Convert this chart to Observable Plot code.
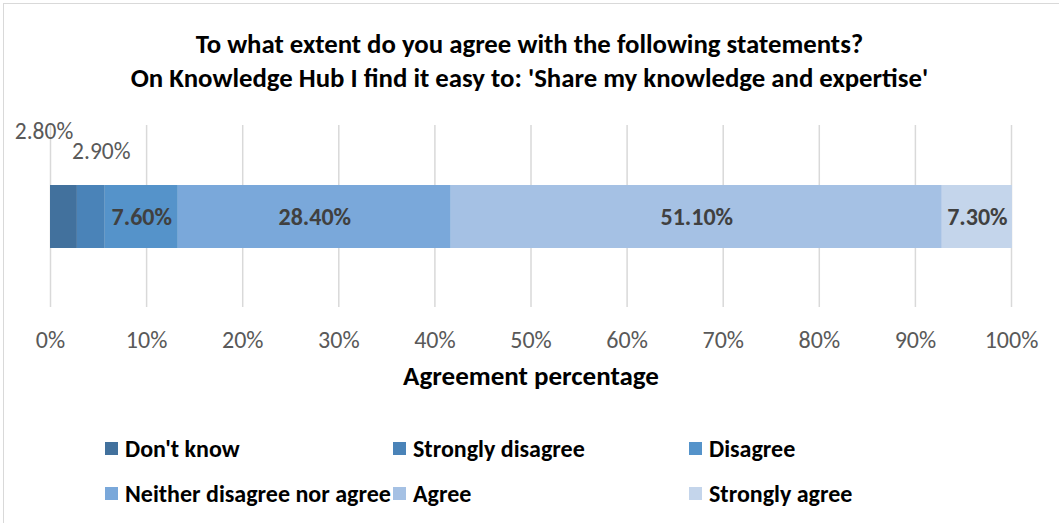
<!DOCTYPE html>
<html>
<head>
<meta charset="utf-8">
<script src="https://cdn.jsdelivr.net/npm/d3@7"></script>
<script src="https://cdn.jsdelivr.net/npm/@observablehq/plot@0.6"></script>
<style>
  html, body { margin: 0; padding: 0; background: #fff; }
  body { width: 1059px; height: 523px; position: relative; overflow: hidden; font-family: Carlito, "Open Sans", sans-serif; }
  #frame { position: absolute; left: 3px; top: 3px; width: 1070px; height: 540px; border: 1.5px solid #d9d9d9; box-sizing: border-box; }
  #title { position: absolute; left: 0; width: 1059px; top: 27px; text-align: center; font-weight: 700; font-size: 26.8px; line-height: 34px; color: #000; }
  #chart { position: absolute; left: 0; top: 110px; }
  #legend { position: absolute; left: 105px; top: 433px; display: grid; grid-template-columns: 288px 296px auto; row-gap: 15px; }
  .item { display: flex; align-items: center; font-weight: 700; font-size: 24px; height: 30px; color: #000; white-space: nowrap; }
  .sw { width: 13px; height: 13px; margin-right: 7px; flex: none; }
</style>
</head>
<body>
<div id="frame"></div>
<div id="title">To what extent do you agree with the following statements?<br>On Knowledge Hub I find it easy to: 'Share my knowledge and expertise'</div>
<div id="chart"></div>
<div id="legend"></div>
<script>
const categories = ["Don't know", "Strongly disagree", "Disagree", "Neither disagree nor agree", "Agree", "Strongly agree"];
const values = [2.8, 2.9, 7.6, 28.4, 51.1, 7.3];
const colors = ["#42719d", "#4a83b8", "#5593ca", "#7aa8da", "#a5c1e4", "#c4d5eb"];
const tickValues = [0, 10, 20, 30, 40, 50, 60, 70, 80, 90, 100];
const axisTitle = "Agreement percentage";

const data = categories.map((c, i) => ({category: c, value: values[i], row: "r", idx: i}));
let acc = 0;
for (const d of data) { d.x1 = acc; acc += d.value; d.x2 = acc; d.mid = (d.x1 + d.x2) / 2; d.label = d.value.toFixed(2) + "%"; }

const font = 'Carlito, "Open Sans", sans-serif';
const chart = Plot.plot({
  width: 1059,
  height: 290,
  marginLeft: 50,
  marginRight: 48,
  marginTop: 15,
  marginBottom: 93,
  style: {fontFamily: font, background: "transparent", overflow: "visible"},
  x: {domain: [0, 100], axis: null},
  y: {domain: ["r"], axis: null, padding: 0.486},
  color: {domain: categories, range: colors},
  marks: [
    Plot.ruleX(tickValues, {x: d => d, stroke: "#d9d9d9", strokeWidth: 1.5}),
    Plot.barX(data, {x1: "x1", x2: "x2", y: "row", fill: "category"}),
    Plot.axisX({ticks: tickValues, tickSize: 0, tickPadding: 23, tickFormat: d => d + "%", fontSize: 24, fill: "#595959", label: null}),
    Plot.text(data.filter(d => d.value >= 5), {x: "mid", y: "row", text: "label", fontSize: 24, fontWeight: "bold", fill: "#404040"}),
    Plot.text(data.filter(d => d.idx === 0), {x: "mid", y: "row", text: "label", fontSize: 23.5, fill: "#595959", dx: -20, dy: -86}),
    Plot.text(data.filter(d => d.idx === 1), {x: "mid", y: "row", text: "label", fontSize: 23.5, fill: "#595959", dx: 10, dy: -66}),
    Plot.text([axisTitle], {frameAnchor: "bottom", text: d => d, dy: 77, fontSize: 27, fontWeight: "bold", fill: "#000"})
  ]
});
document.getElementById("chart").appendChild(chart);

const legend = document.getElementById("legend");
categories.forEach((c, i) => {
  const item = document.createElement("div");
  item.className = "item";
  const sw = document.createElement("span");
  sw.className = "sw";
  sw.style.background = colors[i];
  item.appendChild(sw);
  item.appendChild(document.createTextNode(c));
  legend.appendChild(item);
});
</script>
</body>
</html>
